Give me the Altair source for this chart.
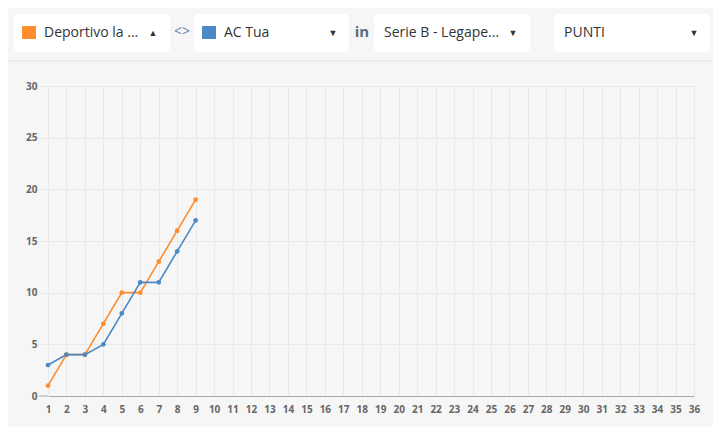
import altair as alt
import pandas as pd

# ---- data ----
matchdays = [1, 2, 3, 4, 5, 6, 7, 8, 9]
team_a = "Deportivo la ..."
team_b = "AC Tua"
points_a = [1, 4, 4, 7, 10, 10, 13, 16, 19]
points_b = [3, 4, 4, 5, 8, 11, 11, 14, 17]
x_ticks = list(range(1, 37))
y_ticks = [0, 5, 10, 15, 20, 25, 30]
league = "Serie B - Legape..."
metric = "PUNTI"

ORANGE = "#ff8c2e"
BLUE = "#4a89c6"
FONT = "Open Sans"

df = pd.DataFrame(
    {
        "Giornata": matchdays * 2,
        "Punti": points_a + points_b,
        "Squadra": [team_a] * len(matchdays) + [team_b] * len(matchdays),
    }
)

color = alt.Color(
    "Squadra:N",
    scale=alt.Scale(domain=[team_a, team_b], range=[ORANGE, BLUE]),
    legend=None,
)
x = alt.X(
    "Giornata:Q",
    scale=alt.Scale(domain=[1, 36], nice=False, zero=False),
    axis=alt.Axis(values=x_ticks, title=None, ticks=False, labelPadding=8,
                  domainColor="#aaaaaa", labelFlush=False),
)
y = alt.Y(
    "Punti:Q",
    scale=alt.Scale(domain=[0, 30], nice=False),
    axis=alt.Axis(values=y_ticks, title=None, tickSize=10, tickColor="#e8e8e8",
                  labelPadding=1, domain=False),
)

base = alt.Chart(df)
lines = base.mark_line(strokeWidth=1.6).encode(x=x, y=y, color=color)
points = base.mark_circle(size=22, opacity=1).encode(x=x, y=y, color=color)

# ---- top selector bar (decoration, outside plot area) ----
one = alt.Data(values=[{}])
TEXT_Y = -53


def box(x0, x1):
    return alt.Chart(one).mark_rect(fill="white", cornerRadius=4).encode(
        x=alt.value(x0), x2=alt.value(x1), y=alt.value(-72), y2=alt.value(-34)
    )


def label(txt, xp, size=14, col="#333333", weight="normal", align="left", dy=0):
    return alt.Chart(one).mark_text(
        align=align, baseline="middle", font=FONT, fontSize=size,
        color=col, fontWeight=weight
    ).encode(x=alt.value(xp), y=alt.value(TEXT_Y + dy), text=alt.value(txt))


def swatch(x0, col):
    return alt.Chart(one).mark_rect(fill=col, cornerRadius=1).encode(
        x=alt.value(x0), x2=alt.value(x0 + 14), y=alt.value(-60), y2=alt.value(-47)
    )


sep = alt.Chart(one).mark_rule(color="#e3e3e3", strokeWidth=1).encode(
    x=alt.value(-40), x2=alt.value(665), y=alt.value(-25)
)
zero_line = alt.Chart(one).mark_rule(color="#aaaaaa", strokeWidth=1).encode(
    x=alt.value(-9), x2=alt.value(0), y=alt.value(310)
)

deco = [
    sep, zero_line,
    box(-34, 122), swatch(-26, ORANGE), label(team_a, -4),
    label("▲", 105, size=9, align="center"),
    label("<>", 134, size=14, col="#5f86ad", align="center", dy=-1),
    box(146, 301), swatch(154, BLUE), label(team_b, 176),
    label("▼", 285, size=9, align="center"),
    label("in", 314, size=15, col="#5b6b82", weight="bold", align="center", dy=-1),
    box(326, 482), label(league, 336), label("▼", 465, size=9, align="center"),
    box(506, 662), label(metric, 516), label("▼", 646, size=9, align="center"),
]

chart = alt.layer(lines, points, *deco).properties(
    width=646,
    height=310,
    padding={"left": 40, "top": 78, "right": 19, "bottom": 31},
    autosize=alt.AutoSizeParams(type="none"),
    background="#f6f6f6",
).configure_view(stroke=None).configure_axis(
    gridColor="#e8e8e8",
    gridWidth=1,
    labelFont=FONT,
    labelFontSize=10,
    labelFontWeight="bold",
    labelColor="#666666",
)

chart.save("out.html", embed_options={"renderer": "svg", "actions": False})
